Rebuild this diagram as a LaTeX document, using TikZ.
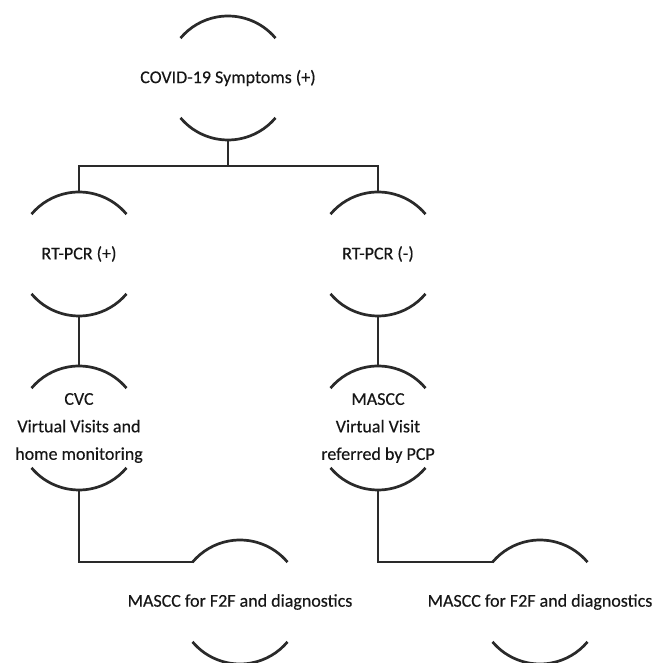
\documentclass[tikz,border=0pt]{standalone}
\usepackage{fontspec}
\setmainfont{Carlito}[FakeBold=0.3]
\definecolor{linec}{HTML}{2A2A2A}
\definecolor{textc}{HTML}{161616}
\begin{document}
\begin{tikzpicture}[x=1pt,y=1pt,
  ring/.style={circle, minimum size=124pt, inner sep=0pt, outer sep=0pt},
  lbl/.style={align=center, text=textc, inner sep=0pt, font=\fontsize{18}{27.5}\selectfont},
  ln/.style={draw=linec, line width=2.7pt, line join=miter}]
\useasboundingbox (0,0) rectangle (652,663);
\fill[white] (0,0) rectangle (652,663);
% ring nodes
\node[ring] (top) at (228,585) {};
\node[ring] (rp)  at (79,409) {};
\node[ring] (rm)  at (378,409) {};
\node[ring] (cvc) at (79,235) {};
\node[ring] (vv)  at (378,235) {};
\node[ring] (fa)  at (240,61) {};
\node[ring] (fb)  at (540,61) {};
% labels
\node[lbl] (topT) at (top.center) {COVID-19 Symptoms (+)};
\node[lbl] (rpT)  at (rp.center) {RT-PCR (+)};
\node[lbl] (rmT)  at (rm.center) {RT-PCR (-)};
\node[lbl] (cvcT) at (cvc.center) {CVC\\Virtual Visits and\\home monitoring};
\node[lbl] (vvT)  at (vv.center) {MASCC\\Virtual Visit\\referred by PCP};
\node[lbl] (faT)  at (fa.center) {MASCC for F2F and diagnostics};
\node[lbl] (fbT)  at (fb.center) {MASCC for F2F and diagnostics};
% arcs
\foreach \n in {top,rp,rm,cvc,vv,fa,fb}{
  \draw[ln] (\n.40) arc[start angle=40, end angle=140, radius=62pt];
  \draw[ln] (\n.220) arc[start angle=220, end angle=320, radius=62pt];
}
% connectors
\coordinate (split) at ([yshift=-26pt]top.south);
\draw[ln] (top.south) -- (split);
\draw[ln] (rp.north) |- (split) -| (rm.north);
\draw[ln] (rp.south) -- (cvc.north);
\draw[ln] (rm.south) -- (vv.north);
\draw[ln] (cvc.south) |- (fa.140);
\draw[ln] (vv.south) |- (fb.140);
\end{tikzpicture}
\end{document}
